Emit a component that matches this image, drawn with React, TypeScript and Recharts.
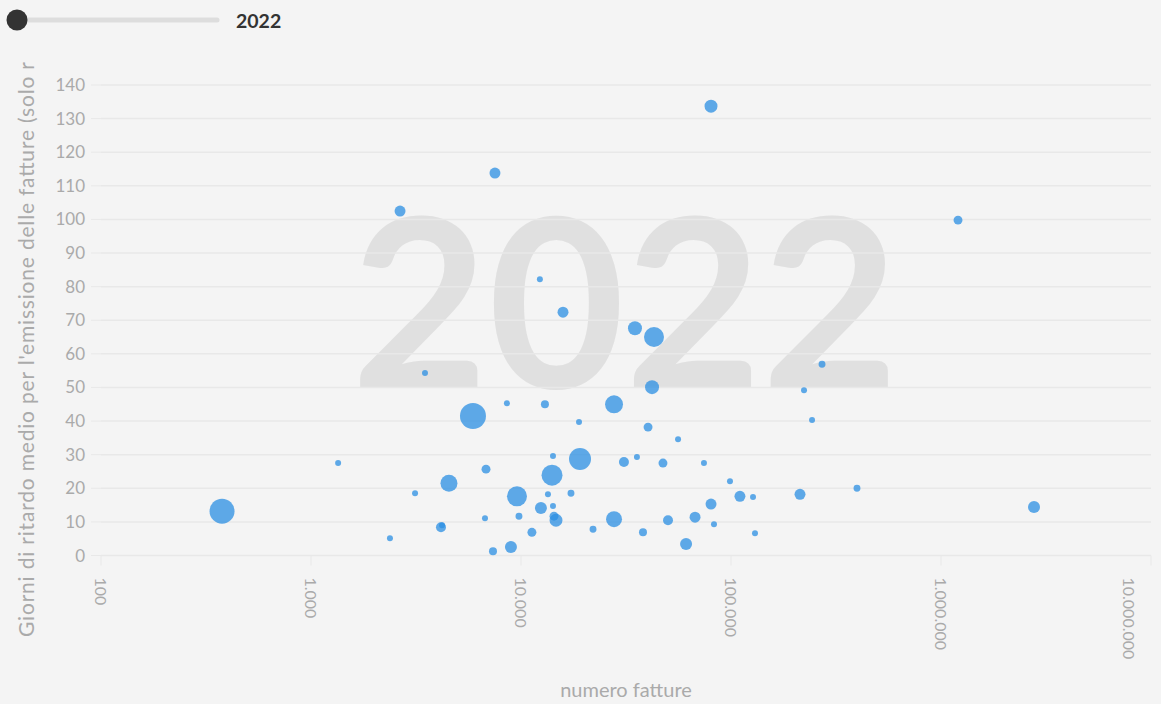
import React from "react";
import { ScatterChart, Scatter, XAxis, YAxis, ZAxis, CartesianGrid, Label } from "recharts";

const ANNO = "2022";

// numero fatture emesse per ente
const fatture = [
  377, 1346, 2377, 2655, 3129, 3490, 4159, 4207, 4539, 5906,
  6738, 6813, 7355, 7516, 8570, 8955, 9569, 9780, 11270, 12300,
  12440, 13000, 13440, 14050, 14200, 14200, 14360, 14680, 15850, 17300,
  18890, 19100, 22030, 27730, 27730, 30920, 34890, 35650, 38100, 40270,
  42070, 42980, 47430, 50120, 55950, 61100, 67420, 74340, 80320, 80320,
  82980, 98900, 110300, 127300, 130100, 213100, 222700, 243200, 271300, 398100,
  1205000, 2773000,
];

// giorni di ritardo medio
const ritardo = [
  13.2, 27.5, 5.1, 102.5, 18.5, 54.3, 8.4, 9.0, 21.5, 41.5,
  11.1, 25.7, 1.3, 113.8, 45.3, 2.5, 17.6, 11.7, 6.9, 82.2,
  14.1, 45.0, 18.2, 23.9, 29.6, 14.7, 11.7, 10.5, 72.4, 18.5,
  39.7, 28.7, 7.8, 45.0, 10.8, 27.8, 67.6, 29.3, 6.9, 38.2,
  50.1, 65.0, 27.5, 10.5, 34.6, 3.4, 11.4, 27.5, 133.7, 15.3,
  9.3, 22.1, 17.6, 17.4, 6.6, 18.2, 49.2, 40.3, 56.9, 20.0,
  99.8, 14.4,
];

// peso della bolla
const peso = [
  156, 9, 9, 30, 9, 9, 25, 9, 72, 169,
  9, 20, 16, 30, 9, 36, 100, 12, 20, 9,
  36, 16, 9, 110, 9, 9, 20, 42, 30, 12,
  9, 121, 12, 81, 64, 25, 49, 9, 16, 20,
  49, 100, 20, 25, 9, 36, 30, 9, 42, 30,
  9, 9, 30, 9, 9, 30, 9, 9, 12, 12,
  20, 36,
];

const xTicks = [100, 1000, 10000, 100000, 1000000, 10000000];
const yTicks = [0, 10, 20, 30, 40, 50, 60, 70, 80, 90, 100, 110, 120, 130, 140];

const data = fatture.map((x, i) => ({ x, y: ritardo[i], z: peso[i] }));

const FONT = "Lato, 'Open Sans', sans-serif";
const GRIGIO = "#aaaaaa";
const LINEA = "#e8e8e8";

const formatta = (v: number) => String(v).replace(/\B(?=(\d{3})+(?!\d))/g, ".");

function XTick({ x, y, payload }: any) {
  return (
    <text
      transform={`translate(${x},${y}) rotate(90)`}
      textAnchor="start"
      dominantBaseline="central"
      fill={GRIGIO}
      fontSize={16}
      fontFamily={FONT}
    >
      {formatta(payload.value)}
    </text>
  );
}

export default function App() {
  return (
    <div
      style={{
        position: "absolute",
        left: 0,
        top: 0,
        width: 1161,
        height: 704,
        background: "#f4f4f4",
        overflow: "hidden",
        fontFamily: FONT,
      }}
    >
      <svg width={1161} height={704} style={{ position: "absolute", left: 0, top: 0 }}>
        {/* slider dell'anno */}
        <line x1={17} y1={20} x2={217} y2={20} stroke="#dddddd" strokeWidth={5} strokeLinecap="round" />
        <circle cx={17} cy={20} r={10.5} fill="#333333" />
        <text x={236} y={20} dominantBaseline="central" fontSize={19.5} fontWeight={700} fill="#333333" fontFamily={FONT}>
          {ANNO}
        </text>
        {/* anno in filigrana */}
        <text x={625} y={388} textAnchor="middle" fontSize={236} fontWeight={700} fill="#e0e0e0" fontFamily={FONT}>
          {ANNO}
        </text>
      </svg>
      <div style={{ position: "absolute", left: 0, top: 0 }}>
        <ScatterChart width={1161} height={704} margin={{ top: 85, right: 10, bottom: 48.5, left: 0 }}>
          <CartesianGrid vertical={false} stroke={LINEA} strokeWidth={1.5} />
          <XAxis
            type="number"
            dataKey="x"
            scale="log"
            domain={[100, 10000000]}
            ticks={xTicks}
            allowDataOverflow
            height={100}
            stroke={LINEA}
            tickSize={10}
            tickMargin={12}
            tick={<XTick />}
          >
            <Label
              content={({ viewBox }: any) => (
                <text
                  x={viewBox.x + viewBox.width / 2}
                  y={697}
                  textAnchor="middle"
                  fill={GRIGIO}
                  fontSize={20}
                  fontFamily={FONT}
                >
                  numero fatture
                </text>
              )}
            />
          </XAxis>
          <YAxis
            type="number"
            dataKey="y"
            domain={[0, 140]}
            ticks={yTicks}
            width={101}
            axisLine={false}
            tickLine={{ stroke: LINEA }}
            tickSize={10}
            tickMargin={6}
            tick={{ fill: GRIGIO, fontSize: 17, fontFamily: FONT }}
          >
            <Label
              content={() => (
                <text
                  transform="translate(34,637) rotate(-90)"
                  textAnchor="start"
                  fill={GRIGIO}
                  fontSize={21}
                  textLength={575}
                  lengthAdjust="spacing"
                  fontFamily={FONT}
                >
                  Giorni di ritardo medio per l'emissione delle fatture (solo r
                </text>
              )}
            />
          </YAxis>
          <ZAxis type="number" dataKey="z" domain={[0, 200]} range={[0, 200 * Math.PI]} />
          <Scatter data={data} fill="#2b8fe3" fillOpacity={0.75} isAnimationActive={false} />
        </ScatterChart>
      </div>
    </div>
  );
}
